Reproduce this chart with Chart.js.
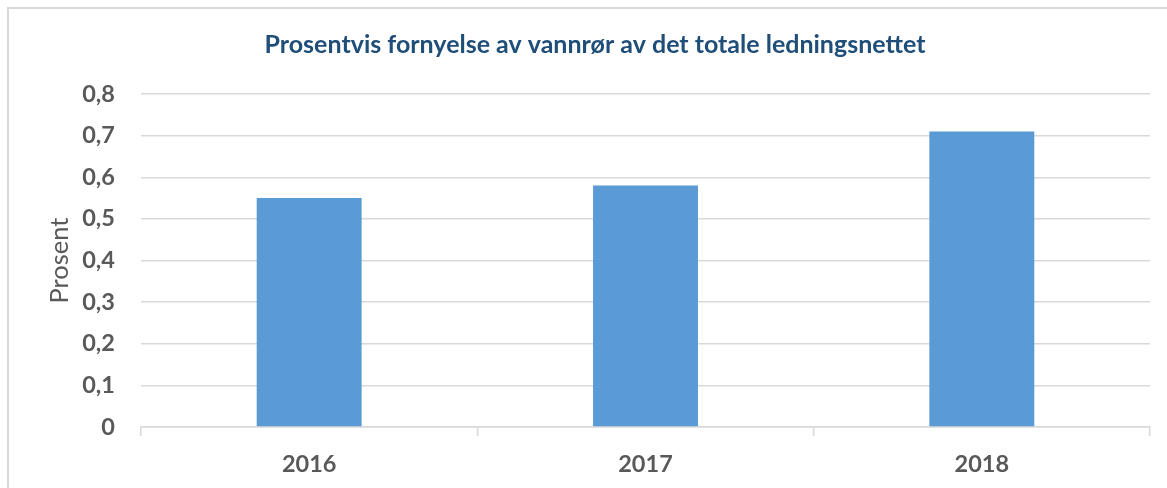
<!DOCTYPE html>
<html>
<head>
<meta charset="utf-8">
<script src="https://cdn.jsdelivr.net/npm/chart.js@4.4.1/dist/chart.umd.min.js"></script>
<style>
    html, body { margin: 0; padding: 0; background: #fff; overflow: hidden; }
    .frame {
        position: absolute; left: 7px; top: 7px;
        width: 1200px; height: 600px;
        border: 2px solid #d9d9d9;
    }
    .wrap { position: absolute; left: 0; top: 0; width: 1167px; height: 488px; }
</style>
</head>
<body>
<div class="frame"></div>
<div class="wrap"><canvas id="chart"></canvas></div>
<script>
// Data
const years = ['2016', '2017', '2018'];
const renewalPct = [0.55, 0.58, 0.71];
const yMax = 0.8;
const yStep = 0.1;

const colors = {
    bar: '#5b9bd5',
    title: '#1f4e79',
    text: '#595959',
    grid: '#d9d9d9'
};
const fontFamily = "Lato, 'Open Sans', sans-serif";

const ctx = document.getElementById('chart');
new Chart(ctx, {
    type: 'bar',
    data: {
        labels: years,
        datasets: [{
            label: 'Prosent',
            data: renewalPct,
            backgroundColor: colors.bar,
            borderWidth: 0,
            categoryPercentage: 1,
            barPercentage: 0.312
        }]
    },
    options: {
        responsive: true,
        maintainAspectRatio: false,
        animation: false,
        layout: { padding: { left: 40, right: 17, top: 0, bottom: 0 } },
        plugins: {
            legend: { display: false },
            tooltip: { enabled: false },
            title: {
                display: true,
                text: 'Prosentvis fornyelse av vannrør av det totale ledningsnettet',
                color: colors.title,
                font: { family: fontFamily, size: 25, weight: 'bold' },
                padding: { top: 30, bottom: 34 }
            }
        },
        scales: {
            x: {
                afterFit: (axis) => { axis.height = 61; },
                grid: {
                    display: true,
                    drawOnChartArea: false,
                    drawTicks: true,
                    tickLength: 9,
                    color: colors.grid,
                    lineWidth: 1.5
                },
                border: { display: true, color: colors.grid, width: 1.5 },
                ticks: {
                    color: colors.text,
                    padding: 14,
                    font: { family: fontFamily, size: 23.5, weight: 'bold' }
                }
            },
            y: {
                min: 0,
                max: yMax,
                afterFit: (axis) => { axis.width = 101; },
                grid: { color: colors.grid, lineWidth: 1.5, drawTicks: false },
                border: { display: false },
                title: {
                    display: true,
                    text: 'Prosent',
                    color: colors.text,
                    font: { family: fontFamily, size: 25.5 },
                    padding: { top: 4, bottom: 0 }
                },
                ticks: {
                    stepSize: yStep,
                    color: colors.text,
                    padding: 26,
                    font: { family: fontFamily, size: 23.5, weight: 'bold' },
                    callback: (v) => v === 0 ? '0' : v.toFixed(1).replace('.', ',')
                }
            }
        }
    }
});
</script>
</body>
</html>
